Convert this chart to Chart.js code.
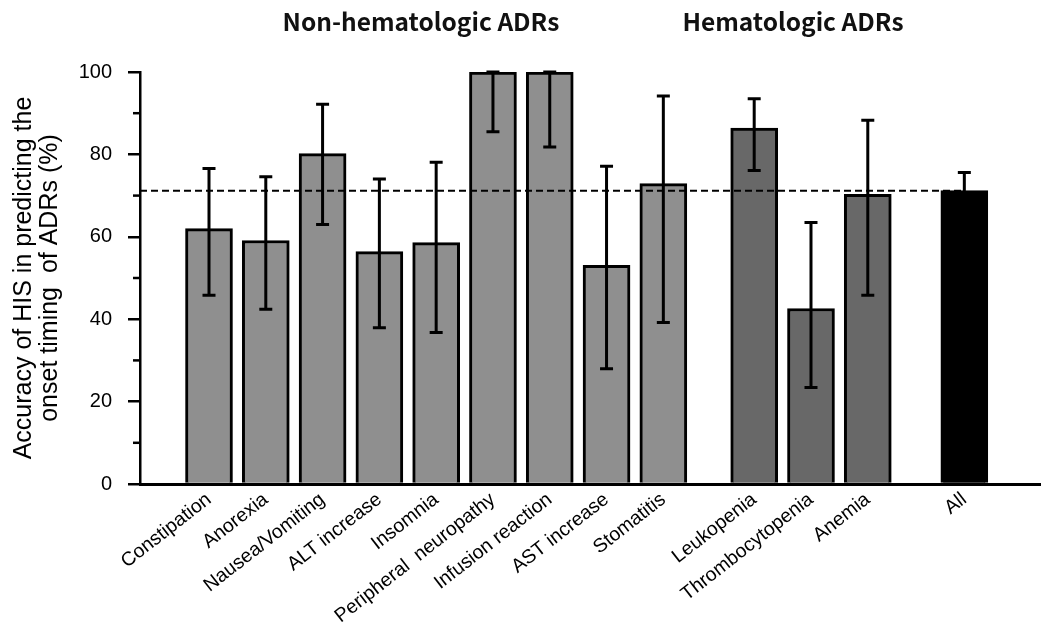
<!DOCTYPE html>
<html>
<head>
<meta charset="utf-8">
<script src="https://cdn.jsdelivr.net/npm/chart.js@4/dist/chart.umd.min.js"></script>
<style>
  html, body { margin: 0; padding: 0; background: #ffffff; }
  #wrap { width: 1041px; height: 630px; }
</style>
</head>
<body>
<div id="wrap"><canvas id="c" width="1041" height="630"></canvas></div>
<script>
// ---- data ----
const categories = ["Constipation", "Anorexia", "Nausea/Vomiting", "ALT increase", "Insomnia",
  "Peripheral  neuropathy", "Infusion reaction", "AST increase", "Stomatitis",
  "Leukopenia", "Thrombocytopenia", "Anemia", "All"];
const groupOf = [0, 0, 0, 0, 0, 0, 0, 0, 0, 1, 1, 1, 2];
const values = [62.0, 59.1, 80.2, 56.4, 58.6, 100, 100, 53.1, 72.9, 86.4, 42.6, 70.3, 71.2];
const lowerCI = [45.8, 42.4, 63.0, 37.9, 36.8, 85.5, 81.8, 28.0, 39.2, 76.1, 23.4, 45.8, 66.8];
const upperCI = [76.6, 74.6, 92.2, 74.0, 78.1, 100, 100, 77.1, 94.2, 93.5, 63.5, 88.3, 75.6];
const groupTitles = ["Non-hematologic ADRs", "Hematologic ADRs"];
const yTicks = [0, 20, 40, 60, 80, 100];

// ---- layout / style ----
const groupGapAfter = [0.6, 0.7];          // extra spacing (in slots) after each group
const groupColors = ["#8f8f8f", "#686868", "#000000"];
const xPos = categories.map((_, i) => {
  let off = 0;
  for (let g = 0; g < groupOf[i]; g++) off += groupGapAfter[g];
  return i + off;
});
const refLine = values[values.length - 1];

const overlayPlugin = {
  id: 'overlay',
  afterDatasetsDraw(chart) {
    const ctx = chart.ctx, xs = chart.scales.x, ys = chart.scales.y;
    ctx.save();
    // dashed reference line (overall accuracy)
    ctx.strokeStyle = '#000';
    ctx.lineWidth = 2;
    ctx.setLineDash([7, 4]);
    const yr = ys.getPixelForValue(refLine);
    ctx.beginPath();
    ctx.moveTo(chart.chartArea.left, yr);
    ctx.lineTo(xs.getPixelForValue(xPos[xPos.length - 1]), yr);
    ctx.stroke();
    ctx.setLineDash([]);
    // error bars
    ctx.lineWidth = 3;
    ctx.lineCap = 'butt';
    for (let i = 0; i < values.length; i++) {
      const x = xs.getPixelForValue(xPos[i]);
      const yl = ys.getPixelForValue(lowerCI[i]);
      const yu = ys.getPixelForValue(upperCI[i]);
      ctx.beginPath();
      ctx.moveTo(x, yl); ctx.lineTo(x, yu);
      ctx.moveTo(x - 6.5, yl); ctx.lineTo(x + 6.5, yl);
      ctx.moveTo(x - 6.5, yu); ctx.lineTo(x + 6.5, yu);
      ctx.stroke();
    }
    ctx.restore();
  },
  afterDraw(chart) {
    const ctx = chart.ctx, xs = chart.scales.x, ys = chart.scales.y;
    ctx.save();
    // minor y ticks
    ctx.strokeStyle = '#000';
    ctx.lineWidth = 2.5;
    for (let v = 10; v < 100; v += 20) {
      const y = ys.getPixelForValue(v);
      ctx.beginPath();
      ctx.moveTo(chart.chartArea.left - 7, y);
      ctx.lineTo(chart.chartArea.left, y);
      ctx.stroke();
    }
    // group titles
    ctx.fillStyle = '#111';
    ctx.font = 'bold 24.5px "Noto Sans CJK JP", "Noto Sans", sans-serif';
    ctx.textAlign = 'center';
    ctx.textBaseline = 'alphabetic';
    ctx.fillText(groupTitles[0], 421, 31);
    ctx.fillText(groupTitles[1], 793, 31);
    ctx.restore();
  }
};

new Chart(document.getElementById('c'), {
  type: 'bar',
  data: {
    datasets: [{
      data: values.map((v, i) => ({ x: xPos[i], y: v })),
      backgroundColor: groupOf.map(g => groupColors[g]),
      borderColor: '#000',
      borderWidth: 3,
      barThickness: 47,
      grouped: false
    }]
  },
  options: {
    responsive: false,
    animation: false,
    layout: { padding: { top: 72, left: 0, right: 0, bottom: 0 } },
    plugins: { legend: { display: false }, tooltip: { enabled: false } },
    scales: {
      x: {
        type: 'linear',
        min: -1.215,
        max: 14.65,
        offset: false,
        afterFit(s) { s.height = 146; },
        afterBuildTicks(s) { s.ticks = xPos.map(v => ({ value: v })); },
        grid: { display: false, drawTicks: false },
        border: { display: true, color: '#000', width: 3 },
        ticks: {
          autoSkip: false,
          minRotation: 38,
          maxRotation: 38,
          padding: 4,
          color: '#000',
          font: { family: '"Liberation Sans", Arial, sans-serif', size: 19.5 },
          callback: (v, i) => categories[i]
        }
      },
      y: {
        min: 0,
        max: 100,
        afterFit(s) { s.width = 140; },
        afterBuildTicks(s) { s.ticks = yTicks.map(v => ({ value: v })); },
        grid: {
          drawOnChartArea: false,
          drawTicks: true,
          tickLength: 12,
          color: '#000',
          lineWidth: 2.5
        },
        border: { display: true, color: '#000', width: 2.5 },
        ticks: {
          padding: 16,
          color: '#000',
          font: { family: '"Liberation Sans", Arial, sans-serif', size: 20 }
        },
        title: {
          display: true,
          text: ['Accuracy of HIS in predicting the', 'onset timing  of ADRs (%)'],
          color: '#000',
          font: { family: '"Liberation Sans", Arial, sans-serif', size: 25, lineHeight: 1.04 },
          padding: { top: 11, bottom: 0 }
        }
      }
    }
  },
  plugins: [overlayPlugin]
});
</script>
</body>
</html>
